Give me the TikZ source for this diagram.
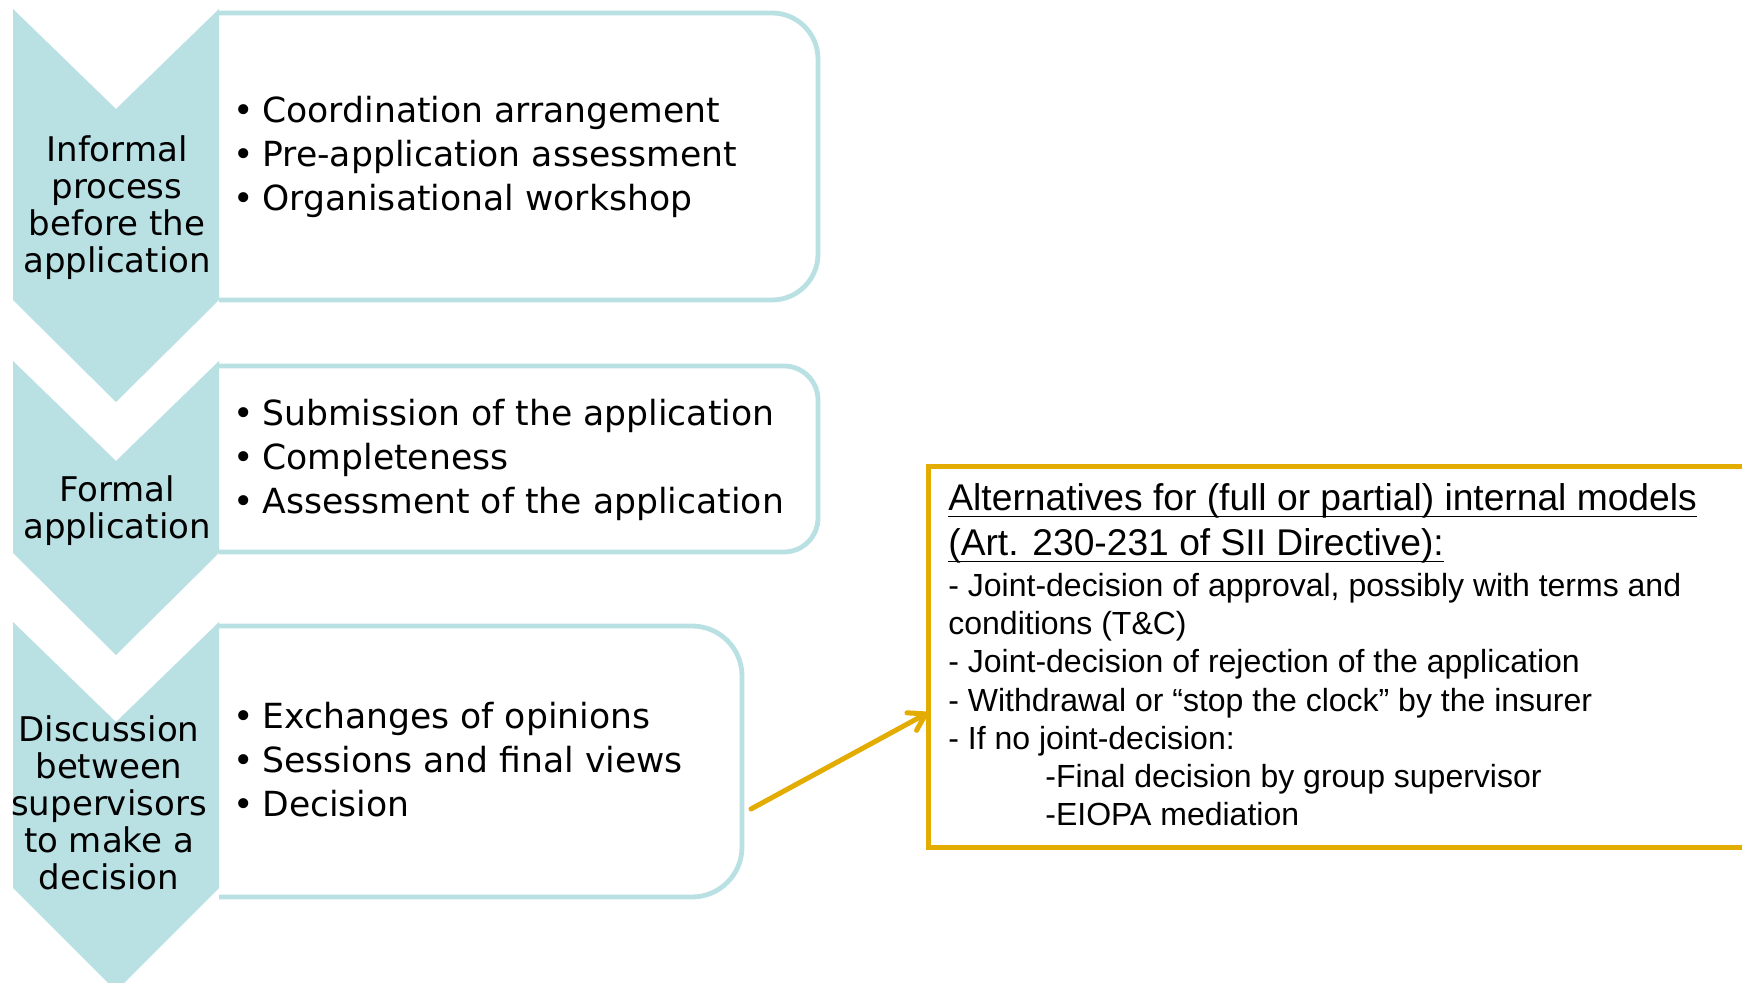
\documentclass[tikz,border=0pt]{standalone}
\usepackage{fontspec}
\setmainfont{DejaVu Sans}
\newfontfamily\arialf{Liberation Sans}
\usetikzlibrary{arrows.meta,calc}
\definecolor{tealfill}{RGB}{185,224,227}
\definecolor{goldline}{RGB}{227,172,0}
\newcommand{\bl}{\llap{\textbullet\hspace{4pt}}}
\newsavebox{\myulbox}
\newcommand{\myul}[1]{\sbox{\myulbox}{#1}\rlap{\rule[-3.2pt]{\wd\myulbox}{0.9pt}}\usebox{\myulbox}}
\tikzset{
  chev/.style={fill=tealfill, draw=none},
  stagebox/.style={draw=tealfill, line width=2.4pt},
  chevtext/.style={anchor=base, align=center, inner sep=0pt, font=\fontsize{17}{18.5}\selectfont},
  bullettext/.style={anchor=base west, align=left, inner sep=0pt, font=\fontsize{17.3}{22}\selectfont},
  goldbox/.style={draw=goldline, line width=2.5pt, minimum width=420pt, minimum height=190.5pt, anchor=north west, inner sep=0pt, outer sep=0pt},
  alttitle/.style={anchor=base west, align=left, inner sep=0pt, font=\arialf\fontsize{18.6}{22.5}\selectfont},
  altbody/.style={anchor=base west, align=left, inner sep=0pt, font=\arialf\fontsize{16}{19.15}\selectfont},
  goldarrow/.style={draw=goldline, line width=2.5pt, line cap=round, -{Straight Barb[length=8pt, width=10pt, round]}}
}
\begin{document}
\begin{tikzpicture}[x=0.5pt, y=-0.5pt]
\clip (0,0) rectangle (1742,983);
\fill[white] (0,0) rectangle (1742,983);

% boxes (open on the left, behind chevrons)
\draw[stagebox, rounded corners=23pt] (219,13) -- (818,13) -- (818,300) -- (219,300);
\draw[stagebox, rounded corners=17pt] (219,366) -- (818,366) -- (818,552) -- (219,552);
\draw[stagebox, rounded corners=25pt] (219,626) -- (742,626) -- (742,897) -- (219,897);

% chevrons
\fill[chev] (13,9) -- (116,109) -- (219,9) -- (219,300) -- (116,402) -- (13,300) -- cycle;
\fill[chev] (13,361) -- (116,461) -- (219,361) -- (219,553) -- (116,655) -- (13,553) -- cycle;
\fill[chev] (13,622) -- (116,722) -- (219,622) -- (219,888) -- (116,991) -- (13,888) -- cycle;

% chevron labels (anchored at last baseline)
\node[chevtext] (c1) at (117,273) {Informal\\process\\before the\\application};
\node[chevtext] (c2) at (117,539) {Formal\\application};
\node[chevtext] (c3) at (109,890) {Discussion\\between\\supervisors\\to make a\\decision};

% bullet lists
\node[bullettext] (b1) at (262,211) {\bl Coordination arrangement\\\bl Pre-application assessment\\\bl Organisational workshop};
\node[bullettext] (b2) at (262,514) {\bl Submission of the application\\\bl Completeness\\\bl Assessment of the application};
\node[bullettext] (b3) at (262,817) {\bl Exchanges of opinions\\\bl Sessions and final views\\\bl Decision};

% alternatives box
\node[goldbox] (alt) at (928,467) {};
\node[alttitle] (altt) at (948,556) {\myul{Alternatives for (full or partial) internal models}\\\myul{(Art. 230-231 of SII Directive):}};
\node[altbody] (altb) at (948,826) {- Joint-decision of approval, possibly with terms and\\conditions (T\&C)\\- Joint-decision of rejection of the application\\- Withdrawal or “stop the clock” by the insurer\\- If no joint-decision:\\\hspace*{48.5pt}-Final decision by group supervisor\\\hspace*{48.5pt}-EIOPA mediation};

% arrow
\coordinate (as) at (751,809);
\draw[goldarrow] (as) -- ($(alt.north west)!0.645!(alt.south west)$);
\end{tikzpicture}
\end{document}
